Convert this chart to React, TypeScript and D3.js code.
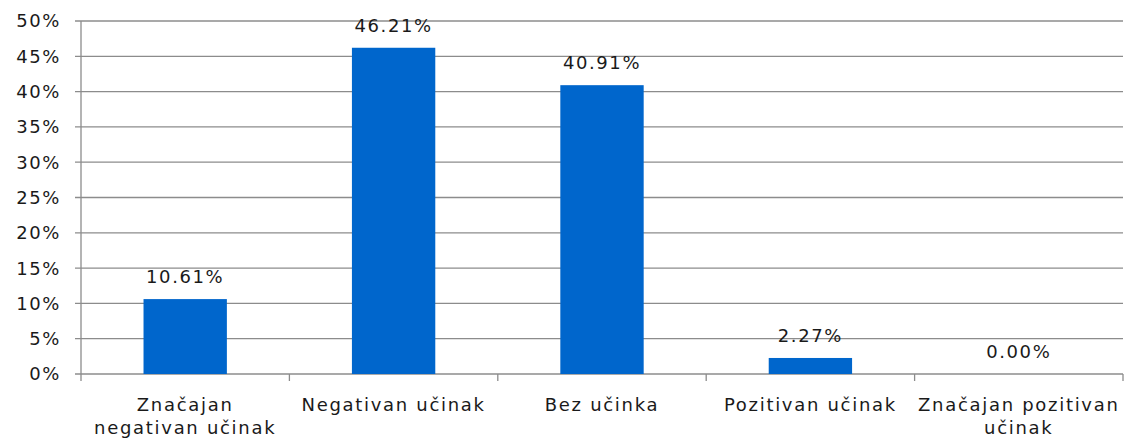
import React from 'react';
import * as d3 from 'd3';

// values
const categories = [
  ['Značajan', 'negativan učinak'],
  ['Negativan učinak'],
  ['Bez učinka'],
  ['Pozitivan učinak'],
  ['Značajan pozitivan', 'učinak'],
];
const values = [10.61, 46.21, 40.91, 2.27, 0.0];
const yTicks = [0, 5, 10, 15, 20, 25, 30, 35, 40, 45, 50];

const W = 1125, H = 441;
const margin = { top: 21, right: 2, bottom: 67, left: 81 };
const font = '"DejaVu Sans", Verdana, sans-serif';

export default function App() {
  const width = W - margin.left - margin.right;
  const height = H - margin.top - margin.bottom;

  const x = d3.scaleBand<number>()
    .domain(d3.range(categories.length))
    .range([0, width])
    .paddingInner(0.6)
    .paddingOuter(0.3);
  const step = width / categories.length;
  const y = d3.scaleLinear().domain([0, 50]).range([height, 0]);

  return (
    <svg width={W} height={H} style={{ position: 'absolute', left: 0, top: 0, background: 'white' }}
      fontFamily={font}>
      <g transform={`translate(${margin.left},${margin.top})`}>
        {yTicks.map(t => (
          <g key={t}>
            <line x1={-6} x2={width} y1={y(t)} y2={y(t)} stroke="#8c8c8c" strokeWidth={1.3} />
            <text x={-20} y={y(t)} dy="0.36em" textAnchor="end" fontSize={18} letterSpacing={1.6} fill="#1a1a1a">
              {t}%
            </text>
          </g>
        ))}
        <line x1={0} x2={0} y1={0} y2={height} stroke="#8c8c8c" strokeWidth={1.3} />
        {d3.range(categories.length + 1).map(i => (
          <line key={i} x1={i * step} x2={i * step} y1={height} y2={height + 7} stroke="#8c8c8c" strokeWidth={1.3} />
        ))}
        {values.map((v, i) => (
          <g key={i}>
            <rect x={x(i)} width={x.bandwidth()} y={y(v)} height={height - y(v)} fill="#0066CC" />
            <text x={x(i)! + x.bandwidth() / 2} y={y(v) - 16} textAnchor="middle" fontSize={18}
              letterSpacing={1.6} fill="#1a1a1a">
              {v.toFixed(2)}%
            </text>
          </g>
        ))}
        {categories.map((lines, i) => (
          <text key={i} x={i * step + step / 2} y={height + 37} textAnchor="middle" fontSize={18}
            letterSpacing={1.7} fill="#1a1a1a">
            {lines.map((l, j) => (
              <tspan key={j} x={i * step + step / 2} dy={j === 0 ? 0 : 22.5}>{l}</tspan>
            ))}
          </text>
        ))}
      </g>
    </svg>
  );
}
